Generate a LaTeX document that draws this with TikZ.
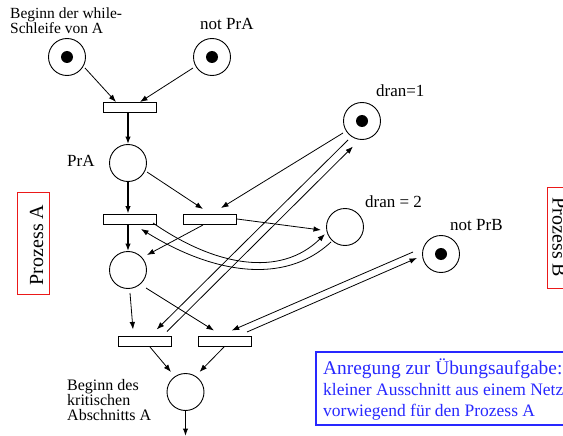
\documentclass[tikz,border=0pt]{standalone}
\usepackage{fontspec}
\setmainfont{Liberation Serif}
\usetikzlibrary{arrows.meta,calc}
\definecolor{anregblue}{RGB}{40,40,255}
\definecolor{boxred}{RGB}{235,25,25}
\begin{document}
\begin{tikzpicture}[x=1pt,y=-1pt,
  place/.style={circle,draw,line width=0.9pt,minimum size=37pt,inner sep=0pt},
  trans/.style={rectangle,draw,line width=0.9pt,minimum width=53pt,minimum height=10pt,inner sep=0pt},
  token/.style={circle,fill,minimum size=12pt,inner sep=0pt},
  arc/.style={-{Latex[length=7.5pt,width=5.5pt]},line width=0.8pt},
  thickarc/.style={arc,line width=1.4pt},
  lbl/.style={font=\fontsize{17}{17}\selectfont,inner sep=0pt,anchor=west},
  desc/.style={inner sep=0pt,anchor=west,align=left},
  redbox/.style={draw=boxred,line width=1pt},
  prozlbl/.style={font=\fontsize{20}{20}\selectfont,inner sep=0pt,anchor=base},
]
\clip (0,0) rectangle (563,436);
% places
\node[place] (p1) at (67,57) {};
\node[token] (p1t) at (p1) {};
\node[place] (p2) at (212,57) {};
\node[token] (p2t) at (p2) {};
\node[place] (prA) at (128,163) {};
\node[place] (p4) at (128,270) {};
\node[place] (d1) at (362,121) {};
\node[token] (d1t) at (d1) {};
\node[place] (d2) at (345,227) {};
\node[place] (nb) at (441,254) {};
\node[token] (nbt) at (nb) {};
\node[place] (p6) at (185.5,392) {};
\coordinate (out) at (185.5,436);
% transitions
\node[trans] (t1) at (129.5,107) {};
\node[trans] (t2) at (129.5,219) {};
\node[trans] (t3) at (209.5,219) {};
\node[trans] (t4) at (145,341.5) {};
\node[trans] (t5) at (225,341.5) {};
% labels
\node[desc,font=\fontsize{15.5}{13}\selectfont] (lp1) at (10,21) {Beginn der while-\\Schleife von A};
\node[lbl] (lp2) at (200,24) {not PrA};
\node[lbl] (lprA) at (67,161) {PrA};
\node[lbl] (ld1) at (376,91) {dran=1};
\node[lbl] (ld2) at (365,202) {dran = 2};
\node[lbl] (lnb) at (450,225) {not PrB};
\node[desc,font=\fontsize{16}{15}\selectfont] (lp6) at (67,400) {Beginn des\\kritischen\\Abschnitts A};
% process boxes
\draw[redbox] (17,192) rectangle (49,294);
\node[prozlbl,rotate=90] (prozA) at (43,245) {Prozess A};
\draw[redbox] (547,187) rectangle (590,288);
\node[prozlbl,rotate=-90] (prozB) at (552.5,237.5) {Prozess B};
% note box
\draw[draw=anregblue,line width=1.2pt] (316,352) rectangle (600,425);
\node[inner sep=0pt,anchor=north west,align=left,text=anregblue,font=\fontsize{17.5}{21}\selectfont] (note) at (323,359)
  {{\fontsize{19.4}{21}\selectfont Anregung zur Übungsaufgabe:}\\kleiner Ausschnitt aus einem Netz\\vorwiegend für den Prozess A};
% arcs
\draw[arc] ($(p1)+(18,11)$) -- ($(t1)+(-13.5,-5)$);
\draw[arc] ($(p2)+(-19,11)$) -- ($(t1)+(10.5,-5)$);
\draw[thickarc] (prA |- t1.south) -- (prA);
\draw[thickarc] (prA) -- (prA |- t2.north);
\draw[arc] ($(prA)+(19,9)$) -- ($(t3)+(-6.5,-10)$);
\draw[arc] ($(d1)+(-19,12)$) -- ($(t3)+(11.5,-11)$);
\draw[thickarc] (p4 |- t2.south) -- (p4);
\draw[arc] ($(t3)+(-6.5,6)$) -- ($(p4)+(19,-15)$);
\draw[arc] ($(t3)+(27.5,0)$) -- ($(d2)+(-24,3)$);
\draw[arc] ($(t2)+(23.5,4)$) .. controls ($(t2)+(85.5,47)$) and ($(d2)+(-65,51)$) .. ($(d2)+(-20,7)$);
\draw[arc] ($(d2)+(-14,15)$) .. controls ($(d2)+(-61,59)$) and ($(t2)+(82.5,54)$) .. ($(t2)+(11.5,10)$);
\draw[arc] ($(p4)+(2,23)$) -- ($(t4)+(-12,-12)$);
\draw[arc] ($(p4)+(18,18)$) -- ($(t5)+(-11,-11)$);
\draw[arc] ($(d1)+(-14,19)$) -- ($(t4)+(11.7,-12)$);
\draw[arc] ($(t4)+(22,-10)$) -- ($(d1)+(-9,25.5)$);
\draw[arc] ($(nb)+(-28,-2)$) -- ($(t5)+(6.7,-11)$);
\draw[arc] ($(t5)+(22,-9.5)$) -- ($(nb)+(-24,4)$);
\draw[arc] ($(t4)+(5,5.5)$) -- ($(p6)+(-14.5,-20)$);
\draw[arc] ($(t5)+(-1,5.5)$) -- ($(p6)+(14,-20)$);
\draw[thickarc] (p6) -- (out);
\end{tikzpicture}
\end{document}
